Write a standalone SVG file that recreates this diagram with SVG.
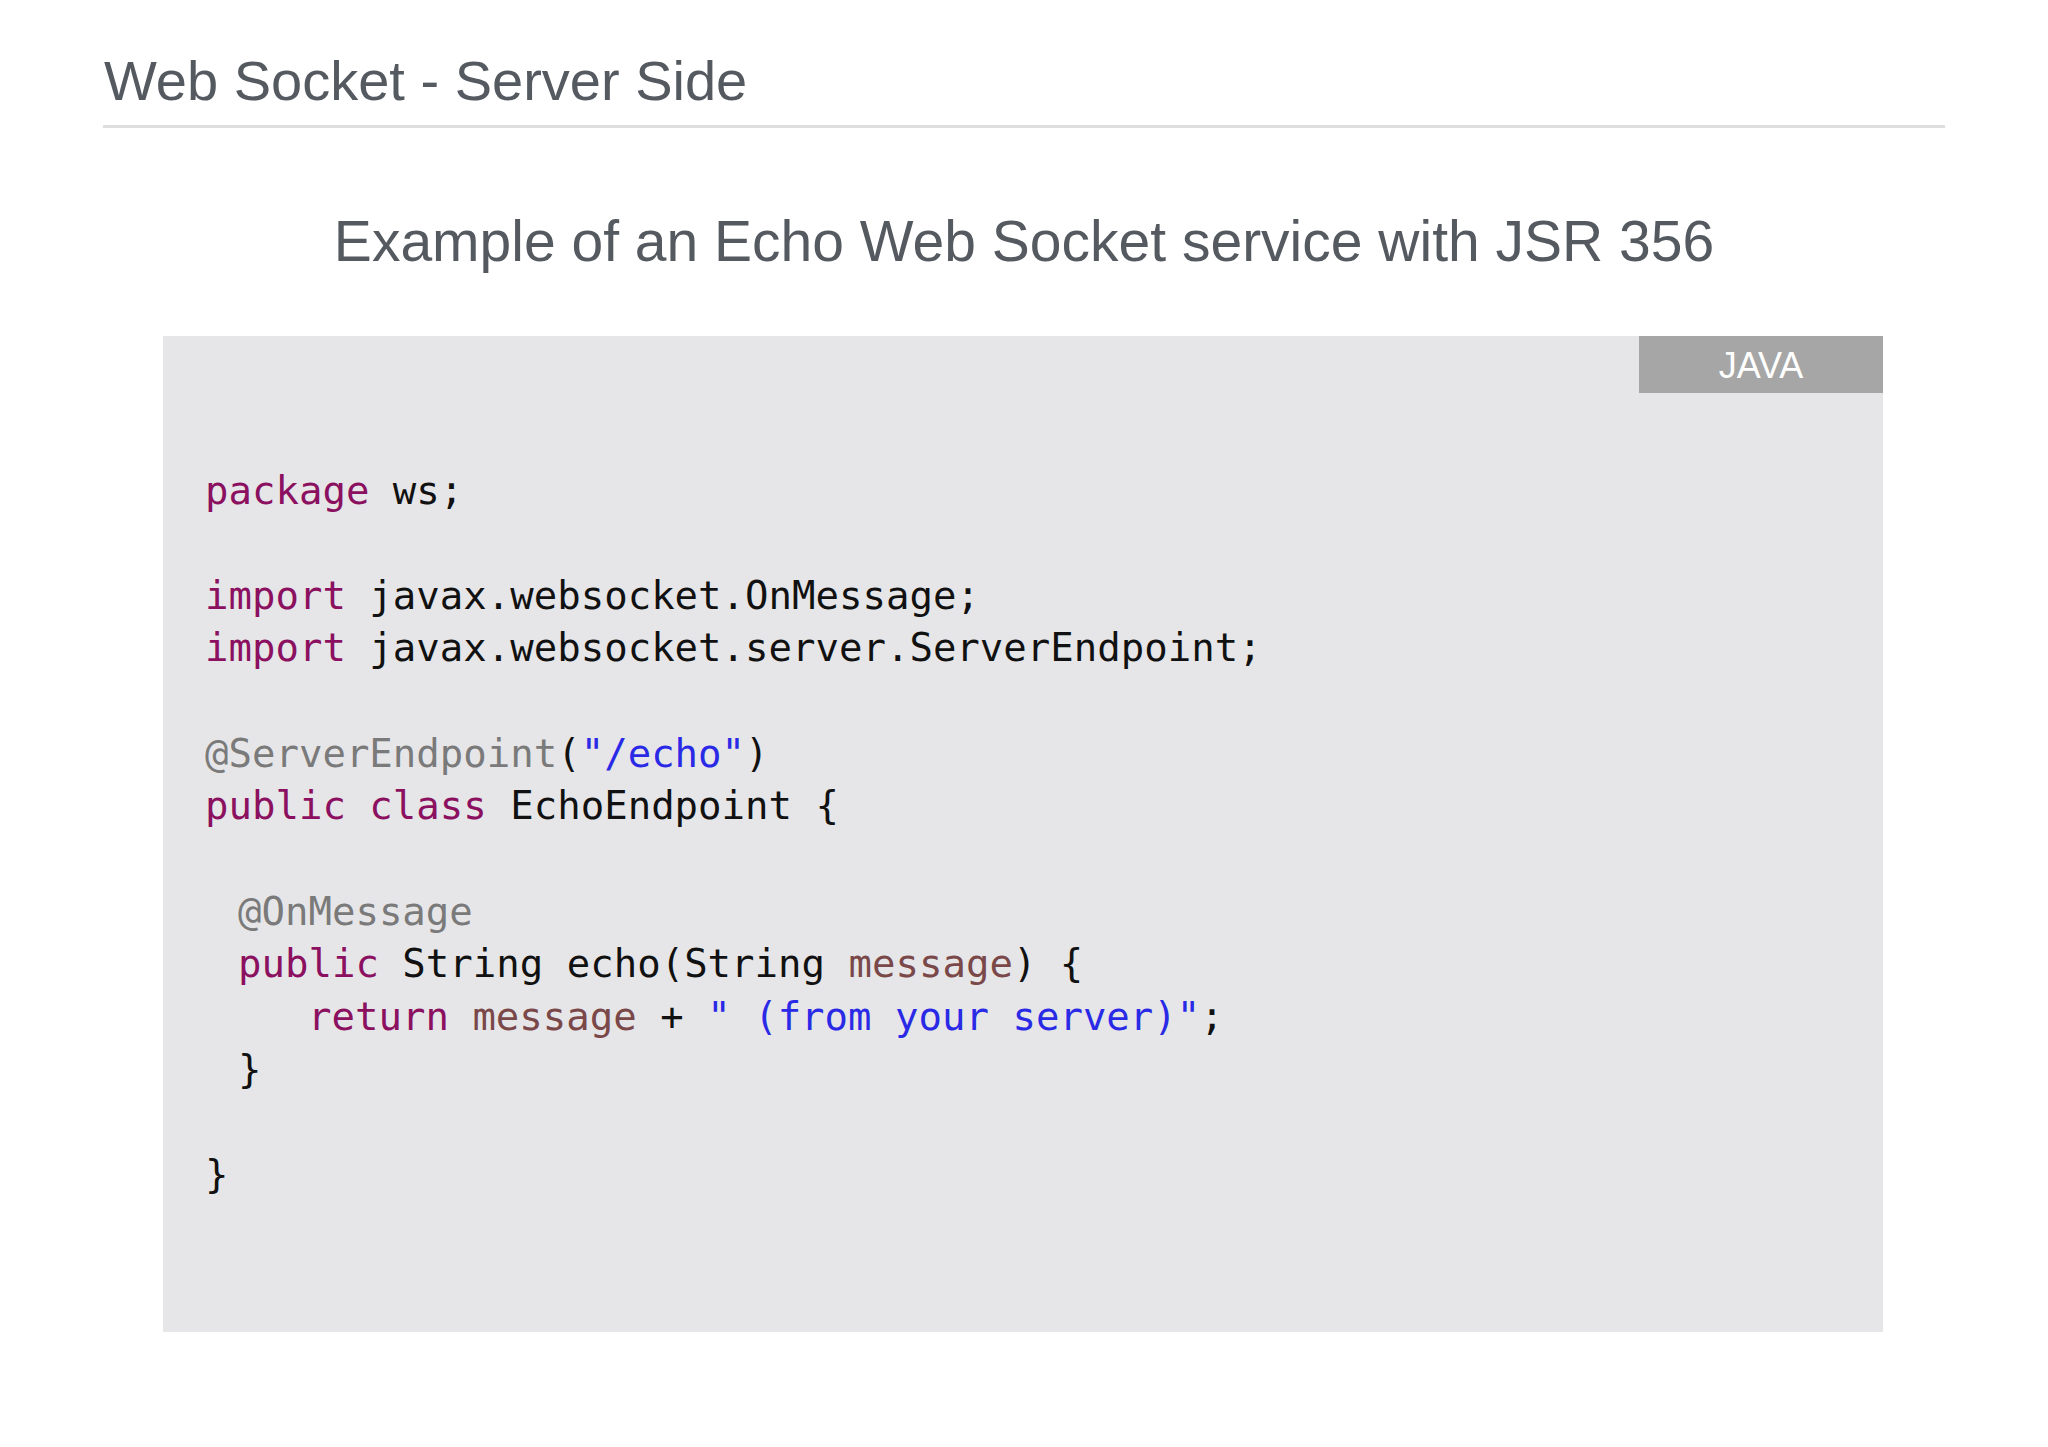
<svg xmlns="http://www.w3.org/2000/svg" width="2048" height="1447" viewBox="0 0 2048 1447">
<style>
.h{font-family:"Liberation Sans",Arial,sans-serif;fill:#555a60}
.c{font-family:"DejaVu Sans Mono","Liberation Mono",monospace;font-size:39px;fill:#111}
.k{fill:#8b1060}.s{fill:#2a2ae6}.a{fill:#7a7a7a}.v{fill:#7a4848}
</style>
<rect width="2048" height="1447" fill="#fff"/>
<g id="title">
<text class="h" x="104" y="100" font-size="56">Web Socket - Server Side</text>
<rect x="103" y="125" width="1842" height="3" fill="#dedede"/>
</g>
<g id="subtitle"><text class="h" x="1024" y="261" font-size="57" text-anchor="middle">Example of an Echo Web Socket service with JSR 356</text></g>
<g id="codebox">
<rect x="163" y="336" width="1720" height="996" fill="#e6e6e8"/>
<rect x="1639" y="336" width="244" height="57" fill="#a6a6a6"/>
<text x="1761" y="378" font-family="Liberation Sans,Arial,sans-serif" font-size="36" fill="#fff" text-anchor="middle">JAVA</text>
</g>
<g id="code" class="c">
<text x="205" y="504"><tspan class="k">package</tspan> ws;</text>
<text x="205" y="609"><tspan class="k">import</tspan> javax.websocket.OnMessage;</text>
<text x="205" y="661"><tspan class="k">import</tspan> javax.websocket.server.ServerEndpoint;</text>
<text x="205" y="767"><tspan class="a">@ServerEndpoint</tspan>(<tspan class="s">"/echo"</tspan>)</text>
<text x="205" y="819"><tspan class="k">public class</tspan> EchoEndpoint {</text>
<text x="238" y="925" class="a">@OnMessage</text>
<text x="238" y="977"><tspan class="k">public</tspan> String echo(String <tspan class="v">message</tspan>) {</text>
<text x="308" y="1030"><tspan class="k">return</tspan> <tspan class="v">message</tspan> + <tspan class="s">" (from your server)"</tspan>;</text>
<text x="238" y="1083">}</text>
<text x="205" y="1188">}</text>
</g>
</svg>
